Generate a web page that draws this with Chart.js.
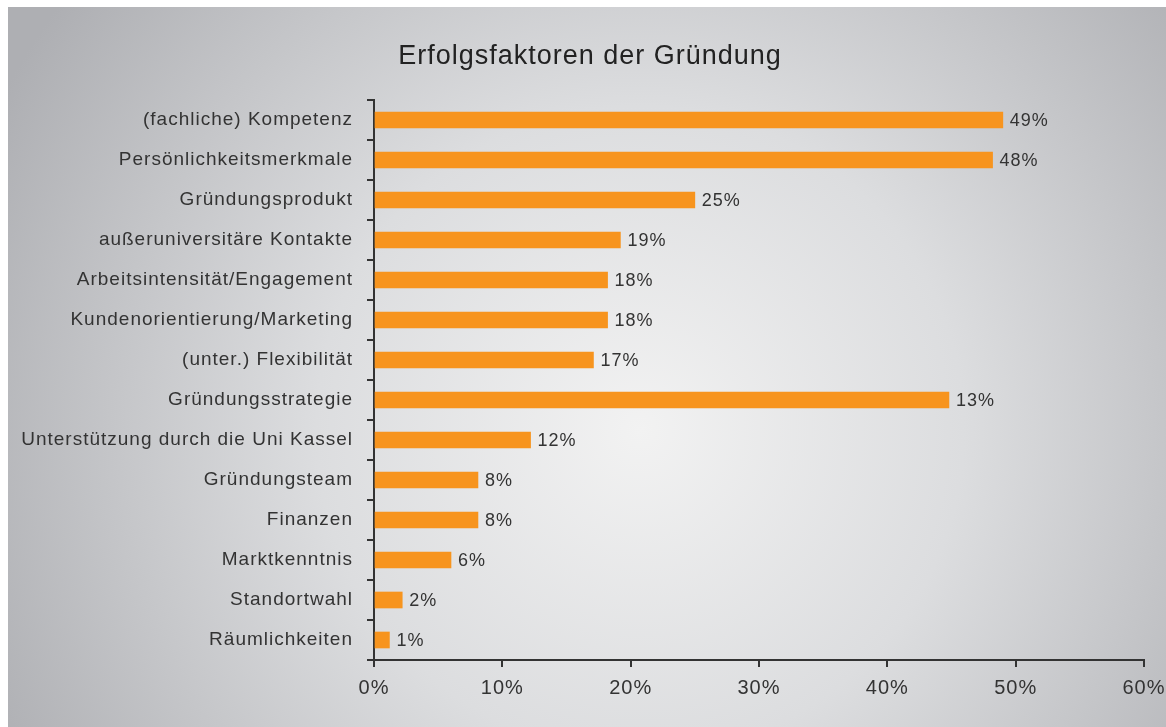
<!DOCTYPE html>
<html>
<head>
<meta charset="utf-8">
<script src="https://cdn.jsdelivr.net/npm/chart.js@4"></script>
<style>
  html, body { margin: 0; padding: 0; background: #fff; }
  #wrap { width: 1166px; height: 727px; position: relative; }
</style>
</head>
<body>
<div id="wrap"><canvas id="chart"></canvas></div>
<script>
const categories = [
  "(fachliche) Kompetenz",
  "Persönlichkeitsmerkmale",
  "Gründungsprodukt",
  "außeruniversitäre Kontakte",
  "Arbeitsintensität/Engagement",
  "Kundenorientierung/Marketing",
  "(unter.) Flexibilität",
  "Gründungsstrategie",
  "Unterstützung durch die Uni Kassel",
  "Gründungsteam",
  "Finanzen",
  "Marktkenntnis",
  "Standortwahl",
  "Räumlichkeiten"
];
// bar lengths as drawn in the picture (percent)
const barValues = [49, 48.2, 25, 19.2, 18.2, 18.2, 17.1, 44.8, 12.2, 8.1, 8.1, 6, 2.2, 1.2];
// printed labels next to the bars
const valueLabels = ["49%", "48%", "25%", "19%", "18%", "18%", "17%", "13%", "12%", "8%", "8%", "6%", "2%", "1%"];
const xTicks = [0, 10, 20, 30, 40, 50, 60];
const title = "Erfolgsfaktoren der Gründung";

const FONT = "'Liberation Sans', Arial, sans-serif";
const TEXT = "#333333";

// gray radial backdrop, thin white margin top/left, spaced lettering
const backdrop = {
  id: "backdrop",
  beforeLayout(chart) {
    chart.ctx.letterSpacing = "1px";
  },
  beforeDraw(chart) {
    const ctx = chart.ctx;
    const w = chart.width, h = chart.height;
    ctx.letterSpacing = "1px";
    ctx.save();
    ctx.fillStyle = "#ffffff";
    ctx.fillRect(0, 0, w, h);
    const g = ctx.createRadialGradient(640, 430, 0, 640, 430, 720);
    g.addColorStop(0, "#f2f2f2");
    g.addColorStop(0.45, "#dcdddf");
    g.addColorStop(1, "#aeafb3");
    ctx.fillStyle = g;
    ctx.fillRect(8, 7, w - 8, h - 7);

    ctx.font = "27px " + FONT;
    ctx.fillStyle = "#222222";
    ctx.textAlign = "center";
    ctx.textBaseline = "middle";
    ctx.fillText(title, 590, 57);
    ctx.restore();
  }
};

const barLabels = {
  id: "barLabels",
  afterDatasetsDraw(chart) {
    const ctx = chart.ctx;
    const meta = chart.getDatasetMeta(0);
    ctx.save();
    ctx.font = "18px " + FONT;
    ctx.fillStyle = TEXT;
    ctx.textBaseline = "middle";
    ctx.textAlign = "left";
    meta.data.forEach((bar, i) => {
      ctx.fillText(valueLabels[i], bar.x + 7, bar.y + 1);
    });
    ctx.restore();
  }
};

new Chart(document.getElementById("chart"), {
  type: "bar",
  data: {
    labels: categories,
    datasets: [{
      data: barValues,
      backgroundColor: "#f7941e",
      barThickness: 16
    }]
  },
  options: {
    indexAxis: "y",
    responsive: true,
    maintainAspectRatio: false,
    animation: false,
    layout: { padding: { left: 0, right: 22, top: 100, bottom: 0 } },
    plugins: {
      legend: { display: false },
      tooltip: { enabled: false },
      title: { display: false }
    },
    scales: {
      y: {
        afterFit: (s) => { s.width = 374; s.paddingTop = 0; s.paddingBottom = 0; },
        border: { color: "#333333", width: 2 },
        grid: { drawOnChartArea: false, tickLength: 7, color: "#333333", lineWidth: 2 },
        ticks: { color: TEXT, font: { family: FONT, size: 19 }, padding: 14, autoSkip: false }
      },
      x: {
        min: 0,
        max: 60,
        afterBuildTicks: (s) => { s.ticks = xTicks.map(v => ({ value: v })); },
        afterFit: (s) => { s.height = 67; s.paddingLeft = 0; s.paddingRight = 0; },
        border: { color: "#333333", width: 2 },
        grid: { drawOnChartArea: false, tickLength: 7, color: "#333333", lineWidth: 2 },
        ticks: { color: TEXT, font: { family: FONT, size: 20 }, padding: 9, callback: (v) => v + "%" }
      }
    }
  },
  plugins: [backdrop, barLabels]
});
</script>
</body>
</html>
